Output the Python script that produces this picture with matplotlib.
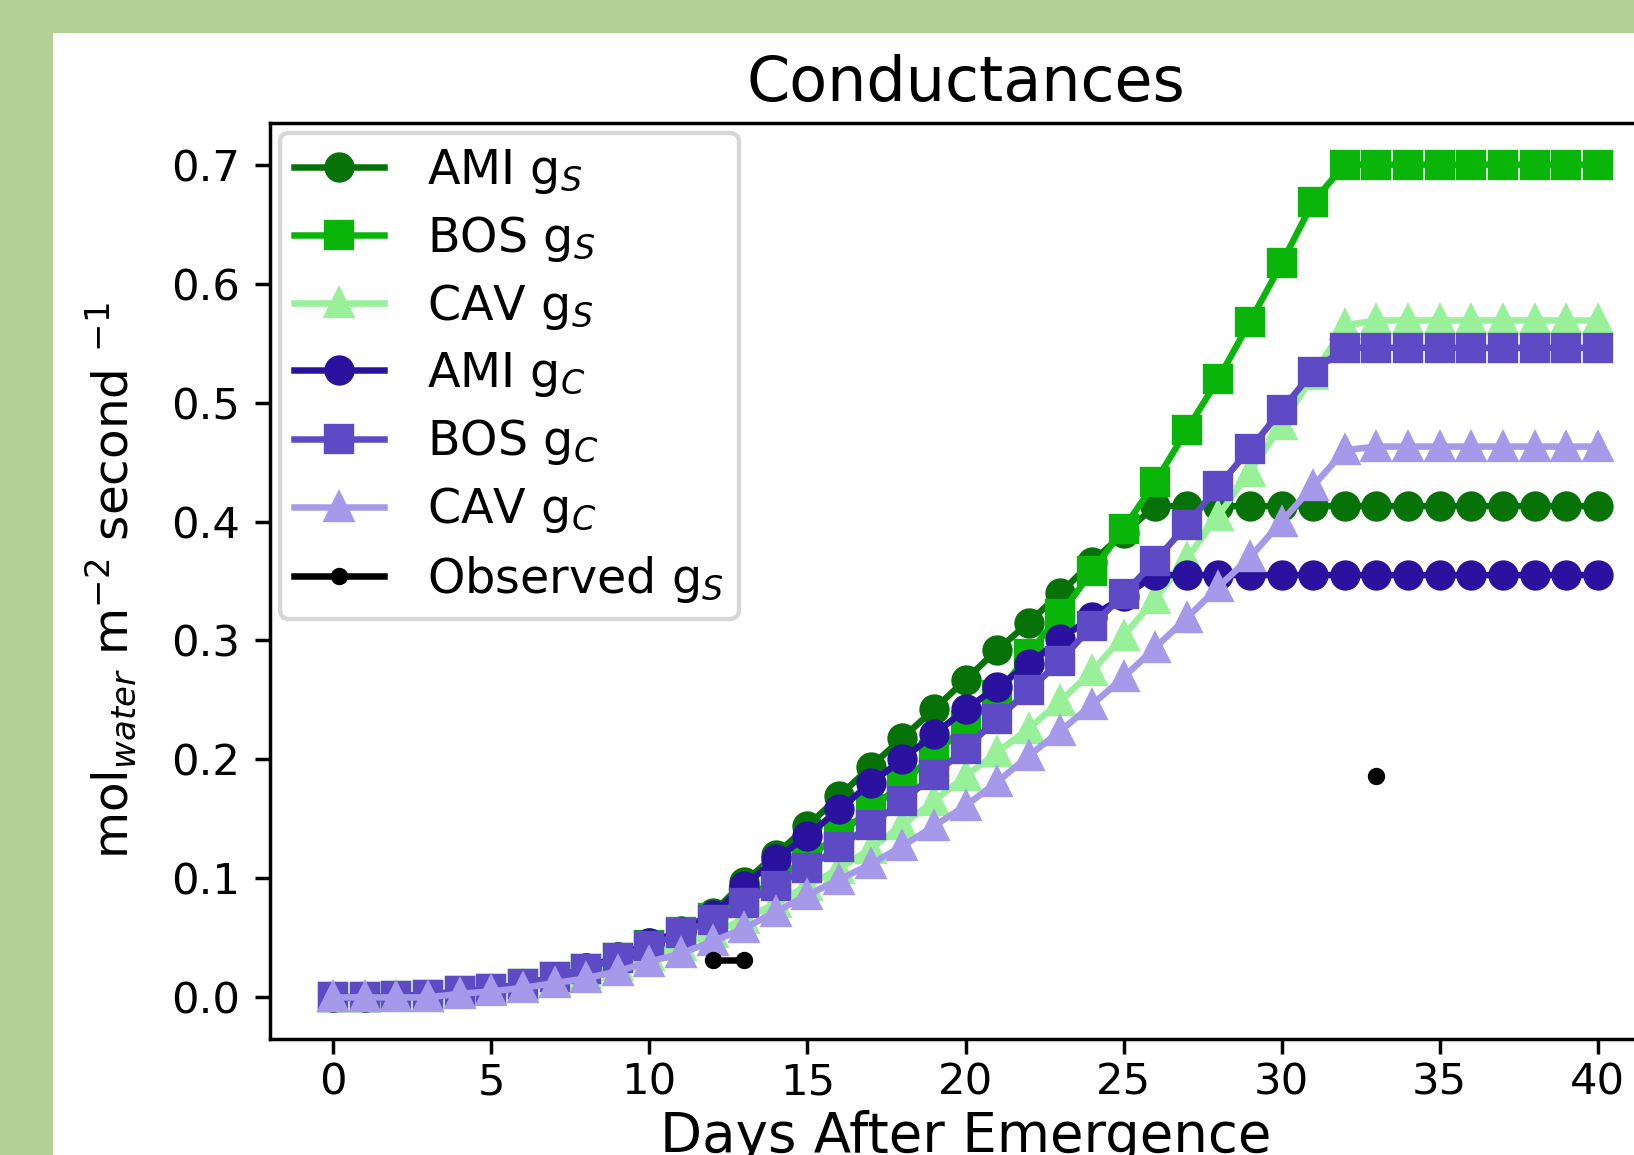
# -*- coding: utf-8 -*-

"""
Conductances vs days after emergence
"""

import matplotlib
matplotlib.use('Agg')
import matplotlib.pyplot as plt
import numpy as np
from matplotlib.patches import Rectangle
from matplotlib.ticker import MultipleLocator

DPI = 312
W, H = 1634, 1155

days = list(range(41))

ami_gs = [0.0, 0.0, 0.001, 0.002, 0.005, 0.007, 0.011, 0.017, 0.025, 0.034,
          0.046, 0.056, 0.071, 0.097, 0.120, 0.144, 0.169, 0.194, 0.218, 0.242,
          0.267, 0.292, 0.315, 0.340, 0.366, 0.390, 0.413, 0.413, 0.413, 0.413,
          0.413, 0.413, 0.413, 0.413, 0.413, 0.413, 0.413, 0.413, 0.413, 0.413,
          0.413]
bos_gs = [0.0, 0.0, 0.001, 0.002, 0.005, 0.007, 0.011, 0.017, 0.024, 0.033,
          0.044, 0.055, 0.067, 0.082, 0.099, 0.117, 0.137, 0.158, 0.180, 0.204,
          0.228, 0.254, 0.289, 0.322, 0.358, 0.394, 0.433, 0.477, 0.520, 0.568,
          0.617, 0.669, 0.700, 0.700, 0.700, 0.700, 0.700, 0.700, 0.700, 0.700,
          0.700]
cav_gs = [0.0, 0.0, 0.0, 0.0, 0.004, 0.006, 0.010, 0.014, 0.020, 0.026,
          0.035, 0.043, 0.054, 0.066, 0.079, 0.094, 0.108, 0.125, 0.145, 0.165,
          0.186, 0.206, 0.226, 0.249, 0.274, 0.304, 0.335, 0.369, 0.405, 0.442,
          0.481, 0.523, 0.565, 0.569, 0.569, 0.569, 0.569, 0.569, 0.569, 0.569,
          0.569]
ami_gc = [0.0, 0.0, 0.001, 0.002, 0.005, 0.007, 0.011, 0.017, 0.025, 0.034,
          0.046, 0.055, 0.069, 0.094, 0.116, 0.136, 0.158, 0.180, 0.200, 0.221,
          0.242, 0.261, 0.280, 0.301, 0.320, 0.337, 0.355, 0.355, 0.355, 0.355,
          0.355, 0.355, 0.355, 0.355, 0.355, 0.355, 0.355, 0.355, 0.355, 0.355,
          0.355]
bos_gc = [0.0, 0.0, 0.001, 0.002, 0.005, 0.007, 0.011, 0.017, 0.024, 0.033,
          0.043, 0.054, 0.065, 0.079, 0.094, 0.109, 0.126, 0.145, 0.165, 0.187,
          0.209, 0.234, 0.258, 0.283, 0.312, 0.339, 0.367, 0.397, 0.430, 0.461,
          0.494, 0.526, 0.546, 0.546, 0.546, 0.546, 0.546, 0.546, 0.546, 0.546,
          0.546]
cav_gc = [0.0, 0.0, 0.0, 0.0, 0.003, 0.005, 0.008, 0.012, 0.016, 0.022,
          0.030, 0.037, 0.047, 0.058, 0.072, 0.086, 0.099, 0.112, 0.127, 0.144,
          0.161, 0.181, 0.203, 0.224, 0.246, 0.269, 0.294, 0.319, 0.345, 0.370,
          0.400, 0.430, 0.460, 0.463, 0.463, 0.463, 0.463, 0.463, 0.463, 0.463,
          0.463]

obs_days = [12, 13, 33]
obs_gs = [0.031, 0.031, 0.186]


def draw_conductances(ax):
    """
    画导度-时间图
    """

    ax.plot(days, ami_gs, '-o', color='#077207', label=r'AMI g$_S$')
    ax.plot(days, bos_gs, '-s', color='#0ab50a', label=r'BOS g$_S$')
    ax.plot(days, cav_gs, '-^', color='#98f198', label=r'CAV g$_S$')
    ax.plot(days, ami_gc, '-o', color='#2a129e', label=r'AMI g$_C$')
    ax.plot(days, bos_gc, '-s', color='#5f4ac6', label=r'BOS g$_C$')
    ax.plot(days, cav_gc, '-^', color='#a699ea', label=r'CAV g$_C$')

    # observed values only on a few days, gaps break the line
    observed = np.full(len(days), np.nan)
    observed[obs_days] = obs_gs
    ax.plot(days, observed, 'k.-', label=r'Observed g$_S$')

    ax.xaxis.set_major_locator(MultipleLocator(5))
    ax.yaxis.set_major_locator(MultipleLocator(0.1))
    ax.tick_params(axis='x', pad=1.6)
    ax.set_title('Conductances', fontsize=14.3, pad=5)
    ax.set_xlabel('Days After Emergence', fontsize=12.6, labelpad=1.5)
    ax.set_ylabel(r'mol$_{water}$ m$^{-2}$ second $^{-1}$', fontsize=11.2,
                  labelpad=7.5)
    ax.legend(loc='upper left', fontsize=11, borderaxespad=0.2,
              labelspacing=0.38, borderpad=0.3, handlelength=1.9,
              handletextpad=0.9)


def main():
    fig = plt.figure(figsize=(W / DPI, H / DPI), dpi=DPI, facecolor='#b3d195')
    # white panel, green frame on left and top
    fig.patches.append(Rectangle((53 / W, 0), 1, (H - 33) / H,
                                 transform=fig.transFigure,
                                 facecolor='white', edgecolor='none', zorder=-1))

    ax = fig.add_axes([270 / W, (H - 1039) / H, (1661 - 270) / W, (1039 - 123) / H])
    draw_conductances(ax)

    fig.savefig('out.png', dpi=DPI)


if __name__ == '__main__':
    main()
